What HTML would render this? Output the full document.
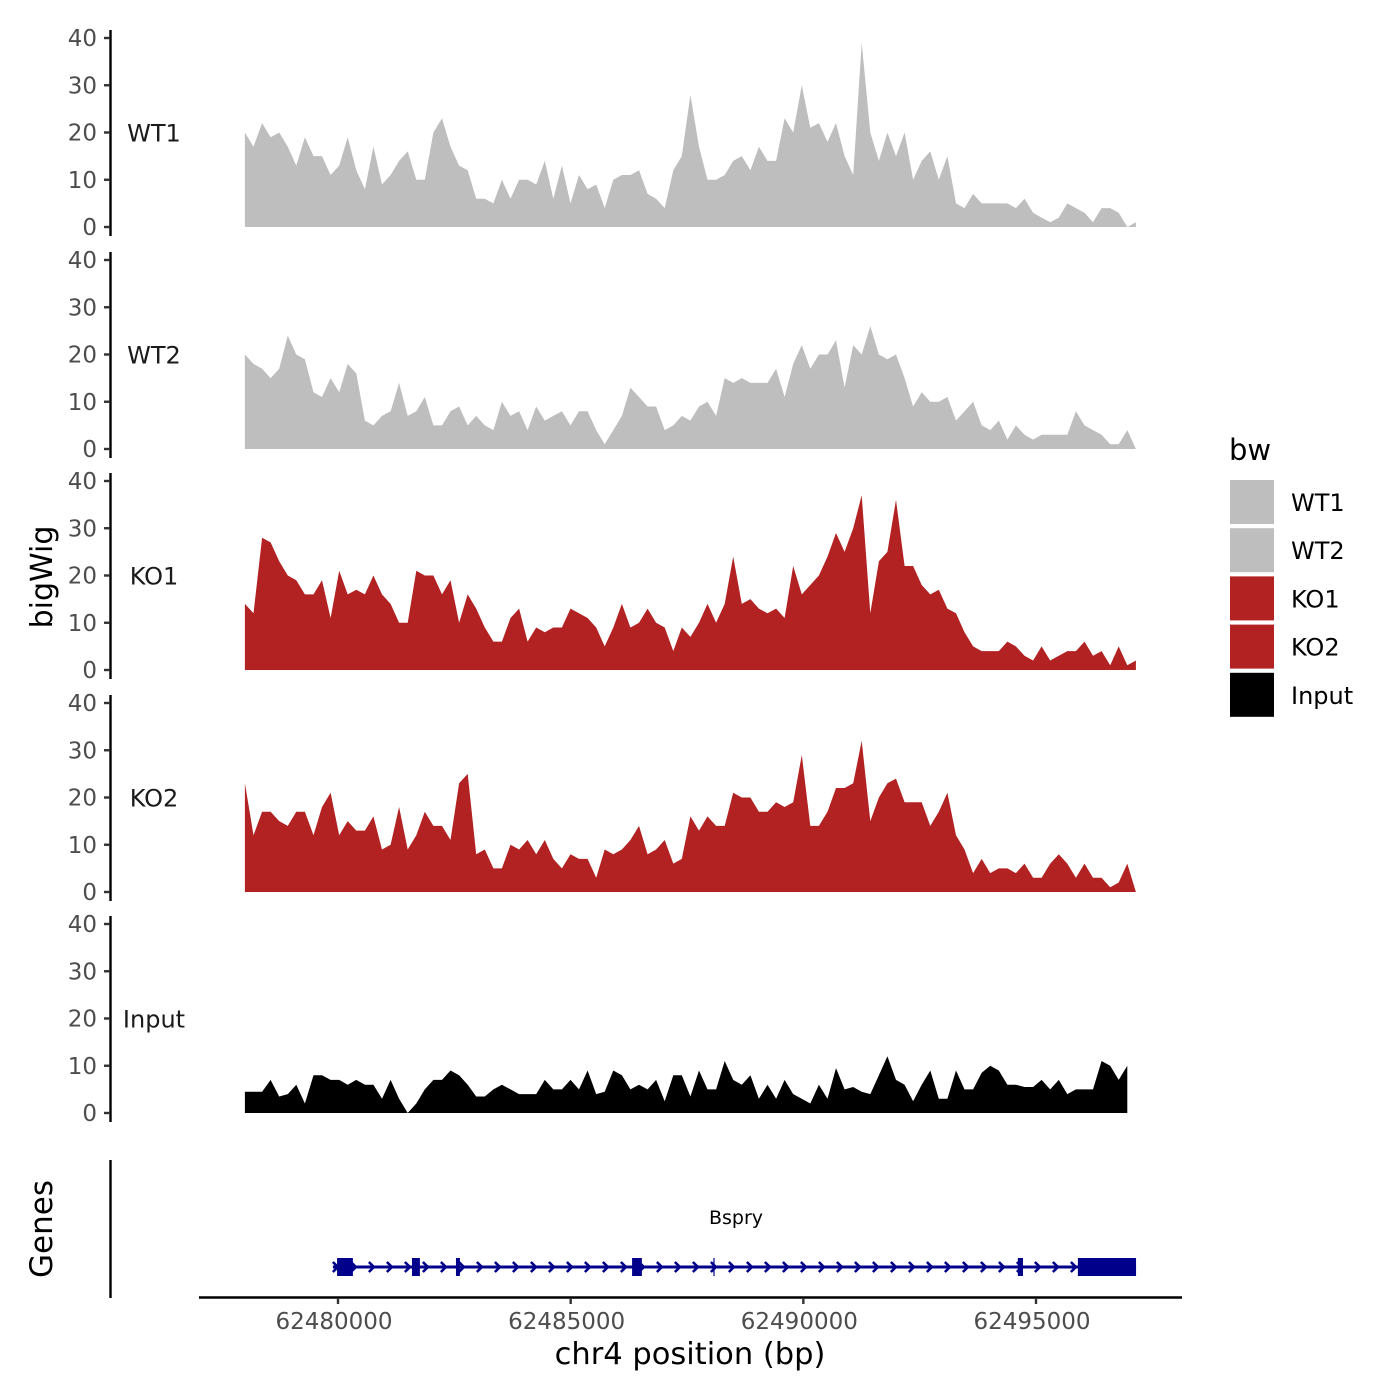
<!DOCTYPE html>
<html><head><meta charset="utf-8"><style>
html,body{margin:0;padding:0;background:#fff;}
svg{display:block;font-family:"DejaVu Sans","Liberation Sans",sans-serif;}
</style></head><body>
<svg id="chart" width="1400" height="1400" viewBox="0 0 1400 1400"></svg>
<script>
// ---- data ----
const sampleNames = ["WT1","WT2","KO1","KO2","Input"];
const sampleColors = ["#bebebe","#bebebe","#b22222","#b22222","#000000"];
const binStart = 62478000;
const binSize = 184.1;
const yTicks = [0,10,20,30,40];
const xTicks = [62480000,62485000,62490000,62495000];
const wt1 = [20,17,22,19,20,17,13,19,15,15,11,13,19,12,8,17,9,11,14,16,10,10,20,23,17,13,12,6,6,5,10,6,10,10,9,14,6,13,5,11,8,9,4,10,11,11,12,7,6,4,12,15,28,17,10,10,11,14,15,12,17,14,14,23,20,30,21,22,18,22,15,11,39,20,14,20,15,20,10,14,16,10,15,5,4,7,5,5,5,5,4,6,3,2,1,2,5,4,3,1,4,4,3,0,1];
const wt2 = [20,18,17,15,17,24,20,19,12,11,15,12,18,16,6,5,7,8,14,7,8,11,5,5,8,9,5,7,5,4,10,7,8,4,9,6,7,8,5,8,8,4,1,4,7,13,11,9,9,4,5,7,6,9,10,7,15,14,15,14,14,14,17,11,18,22,17,20,20,23,13,22,20,26,20,19,20,15,9,12,10,10,11,6,8,10,5,4,6,2,5,3,2,3,3,3,3,8,5,4,3,1,1,4,0];
const ko1 = [14,12,28,27,23,20,19,16,16,19,11,21,16,17,16,20,16,14,10,10,21,20,20,16,19,10,16,13,9,6,6,11,13,6,9,8,9,9,13,12,11,9,5,9,14,9,10,13,10,9,4,9,7,10,14,10,14,24,14,15,13,12,13,11,22,16,18,20,24,29,25,30,37,12,23,25,36,22,22,18,16,17,13,12,8,5,4,4,4,6,5,3,2,5,2,3,4,4,6,3,4,1,5,1,2];
const ko2 = [23,12,17,17,15,14,17,17,12,18,21,12,15,13,13,16,9,10,18,9,12,17,14,14,11,23,25,8,9,5,5,10,9,11,8,11,7,5,8,7,7,3,9,8,9,11,14,8,9,11,6,7,16,13,16,14,14,21,20,20,17,17,19,18,19,29,14,14,17,22,22,23,32,15,20,23,24,19,19,19,14,17,21,12,9,4,7,4,5,5,4,6,3,3,6,8,6,3,6,3,3,1,2,6,0];
const inputSig = [4.5,4.5,4.5,7,3.5,4,6,2,8,8,7,7,6,7,6,6,3,7,3,0,2,5,7,7,9,8,6,3.5,3.5,5,6,5,4,4,4,7,5,5,7,5,9,4,4.5,9,8,5,6,5,7,2.5,8,8,3.5,9,5,5,11,7,6,8,3,6,3,7,4,3,2,6,3,9.5,5,5.5,4.5,4,8,12,7,6,2.5,6,9,3,3,9,5,5,8.5,10,9,6,6,5.5,5.5,7,5,7,4,5,5,5,11,10,7,10];
const series = [wt1,wt2,ko1,ko2,inputSig];
const geneName = "Bspry";
const geneStart = 62479890, geneEnd = 62497150;
const exonStarts = [62479980,62481590,62482535,62486320,62494610,62495900];
const exonEnds   = [62480320,62481760,62482620,62486530,62494720,62497150];
const thinMarks = [62488080];

// ---- scales ----
const NS="http://www.w3.org/2000/svg";
const svg=document.getElementById('chart');
function xs(bp){return 338+(bp-62480000)*(698/15000);}
const zeroY=[227,449,670,892,1113];
const pxPerUnit=189/40;
function ys(p,v){return zeroY[p]-v*pxPerUnit;}
function mk(tag,attrs,parent){const e=document.createElementNS(NS,tag);for(const k in attrs)e.setAttribute(k,attrs[k]);(parent||svg).appendChild(e);return e;}

// ---- panels ----
series.forEach((vals,p)=>{
  const g=mk('g',{});
  
  
  const x0=xs(binStart);
  let d='M'+x0.toFixed(1)+','+zeroY[p];
  vals.forEach((v,i)=>{d+=' L'+xs(binStart+i*binSize).toFixed(1)+','+ys(p,v).toFixed(1);});
  d+=' L'+xs(binStart+(vals.length-1)*binSize).toFixed(1)+','+zeroY[p]+' Z';
  const a=mk('path',{d:d,fill:sampleColors[p]},g);
  
  
  const ax=mk('line',{x1:110.5,x2:110.5,y1:ys(p,40)-8,y2:zeroY[p]+9,stroke:'#000','stroke-width':2.4},g);
  
  
  yTicks.forEach(t=>{
    const y=ys(p,t);
    const tk=mk('line',{x1:104,x2:110,y1:y,y2:y,stroke:'#333','stroke-width':2.4},g);
    
    
    const tl=mk('text',{x:97,y:y+8,'text-anchor':'end','font-size':23,fill:'#4d4d4d'},g);
    
    
    tl.textContent=t;
  });
  const lb=mk('text',{x:154,y:ys(p,20)+9,'text-anchor':'middle','font-size':24,fill:'#1a1a1a'},g);
  
  
  lb.textContent=sampleNames[p];
});

// ---- gene track ----
const gg=mk('g',{});


const gl=mk('line',{x1:xs(geneStart),x2:xs(geneEnd),y1:1267,y2:1267,stroke:'#00008b','stroke-width':3},gg);


for(let x=xs(geneStart)+3;x<xs(geneEnd)-5;x+=18){
  const c=mk('path',{d:`M${x-3},${1262} L${x+2},${1267} L${x-3},${1272}`,fill:'none',stroke:'#00008b','stroke-width':2.6},gg);
  
  
}
exonStarts.forEach((s,i)=>{
  const x1=xs(s),x2=xs(exonEnds[i]);
  const r=mk('rect',{x:x1,y:1258,width:Math.max(3,x2-x1),height:18,fill:'#00008b'},gg);
  
  
});
thinMarks.forEach(s=>{
  const l=mk('line',{x1:xs(s),x2:xs(s),y1:1258,y2:1276,stroke:'#00008b','stroke-width':1.2},gg);
  
  
});
const gn=mk('text',{x:736,y:1224,'text-anchor':'middle','font-size':19,fill:'#000'},gg);


gn.textContent=geneName;
const ga=mk('line',{x1:110.5,x2:110.5,y1:1160,y2:1298,stroke:'#000','stroke-width':2.4},gg);



// ---- x axis ----
const xa=mk('line',{x1:199,x2:1182,y1:1297.5,y2:1297.5,stroke:'#000','stroke-width':2.4});


xTicks.forEach(t=>{
  const x=xs(t);
  const tk=mk('line',{x1:x,x2:x,y1:1298,y2:1304,stroke:'#333','stroke-width':2.4});
  
  
  const tl=mk('text',{x:x-4,y:1329,'text-anchor':'middle','font-size':23,fill:'#4d4d4d'});
  
  
  tl.textContent=t;
});

// ---- legend ----
const lg=mk('g',{});


const lt=mk('text',{x:1229,y:460,'font-size':29,fill:'#000'},lg);


lt.textContent='bw';
sampleNames.forEach((n,i)=>{
  const y=480+i*48.2;
  const r=mk('rect',{x:1230,y:y,width:44,height:44,fill:sampleColors[i]},lg);
  
  
  const t=mk('text',{x:1291,y:y+31,'font-size':24,fill:'#000'},lg);
  
  
  t.textContent=n;
});
</script>
<div style="position:absolute;left:0;top:0;width:1400px;height:1400px;pointer-events:none">
<svg width="1400" height="1400" style="font-family:'DejaVu Sans','Liberation Sans',sans-serif">
<text transform="translate(52,577) rotate(-90)" text-anchor="middle" font-size="30" fill="#000">bigWig</text>
<text transform="translate(52,1229) rotate(-90)" text-anchor="middle" font-size="31" fill="#000">Genes</text>
<text x="690" y="1364" text-anchor="middle" font-size="30.5" fill="#000">chr4 position (bp)</text>
</svg></div>
</body></html>
